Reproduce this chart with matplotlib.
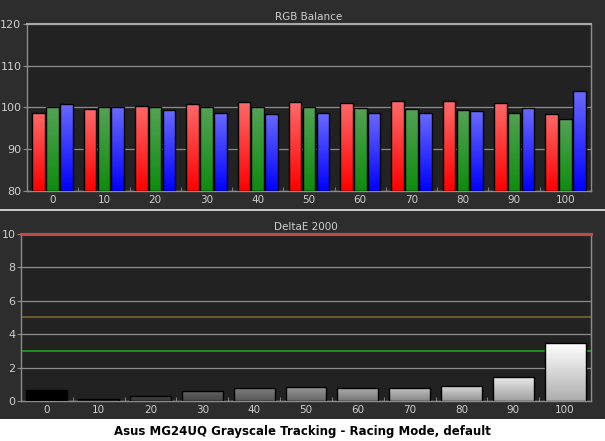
import numpy as np
import matplotlib
matplotlib.use("Agg")
import matplotlib.pyplot as plt
from matplotlib.colors import LinearSegmentedColormap

# ── Data ──────────────────────────────────────────────────────────────────
levels = [0, 10, 20, 30, 40, 50, 60, 70, 80, 90, 100]
red   = [98.8, 99.6, 100.4, 100.9, 101.2, 101.2, 101.1, 101.5, 101.5, 101.1, 98.5]
green = [100.0, 100.0, 100.0, 100.0, 100.0, 100.2, 99.9, 99.7, 99.3, 98.8, 97.2]
blue  = [100.9, 100.0, 99.3, 98.8, 98.5, 98.6, 98.6, 98.6, 99.1, 99.8, 103.9]
delta_e = [0.68, 0.10, 0.30, 0.60, 0.78, 0.82, 0.77, 0.77, 0.88, 1.45, 3.45]
tick_labels = [str(v) for v in levels]

FIG_BG = "#2d2d2d"
AX_BG = "#222222"
GRID = "#8c8c8c"
TXT = "#d0d0d0"

plt.rcParams["font.family"] = ["DejaVu Sans"]

fig = plt.figure(figsize=(6.05, 4.41), dpi=100, facecolor=FIG_BG)


def grad_bar(ax, x0, x1, y0, y1, top, bottom):
    """Bar with vertical gradient + black edge."""
    cmap = LinearSegmentedColormap.from_list("g", [bottom, top])
    g = np.linspace(0, 1, 256).reshape(-1, 1)
    bar = ax.bar((x0 + x1) / 2, y1 - y0, width=x1 - x0, bottom=y0,
                 facecolor="none", edgecolor="black", lw=1.0, zorder=4)[0]
    im = ax.imshow(g, cmap=cmap, extent=[x0, x1, y0, y1], origin="lower",
                   aspect="auto", zorder=3, interpolation="bilinear")
    im.set_clip_path(bar)


def style_axes(ax, xn):
    ax.set_facecolor(AX_BG)
    for s in ax.spines.values():
        s.set_color(GRID)
        s.set_linewidth(1.0)
    ax.spines["top"].set_color("#a8a8a8")
    ax.spines["top"].set_linewidth(1.5)
    ax.set_xlim(-0.5, xn - 0.5)
    ax.set_xticks(np.arange(xn))
    ax.set_xticklabels(tick_labels)
    ax.set_xticks(np.arange(xn - 1) + 0.5, minor=True)
    ax.tick_params(axis="x", which="major", length=0, colors=TXT,
                   labelsize=7.5, pad=3)
    ax.tick_params(axis="x", which="minor", length=3, color=GRID,
                   direction="in")
    ax.tick_params(axis="y", length=3, color=GRID, colors=TXT,
                   labelsize=8, pad=1)
    ax.grid(axis="y", color=GRID, lw=0.9, zorder=1)
    ax.set_axisbelow(True)


# ── RGB Balance ───────────────────────────────────────────────────────────
ax1 = fig.add_axes([0.0446, 0.5669, 0.9323, 0.3787])
style_axes(ax1, len(levels))
ax1.set_ylim(80, 120)
ax1.set_yticks([80, 90, 100, 110, 120])
bw, off = 0.245, 0.27
rgb_cols = [(red, "#ff6a6a", "#ff0000"),
            (green, "#55a255", "#0e8c0e"),
            (blue, "#6a6aff", "#0000ff")]
for k, (vals, top, bot) in enumerate(rgb_cols):
    for i, v in enumerate(vals):
        xc = i + (k - 1) * off
        grad_bar(ax1, xc - bw / 2, xc + bw / 2, 80, v, top, bot)
ax1.set_xlim(-0.5, len(levels) - 0.5)
ax1.set_ylim(80, 120)
ax1.set_title("RGB Balance", color=TXT, fontsize=7.5, pad=3)

# separator line between panels
fig.add_artist(plt.Line2D([0, 1], [0.5238, 0.5238], color="#e8e8e8",
                          lw=1.2, transform=fig.transFigure))

# ── DeltaE 2000 ───────────────────────────────────────────────────────────
ax2 = fig.add_axes([0.0347, 0.0907, 0.9422, 0.3787])
style_axes(ax2, len(levels))
ax2.set_yticks([0, 2, 4, 6, 8, 10])
for i, v in enumerate(delta_e):
    g = (levels[i] / 100) ** 0.75
    top = (g, g, g)
    bot = (g * 0.68, g * 0.68, g * 0.68)
    grad_bar(ax2, i - 0.395, i + 0.395, 0, v, top, bot)
ax2.set_xlim(-0.5, len(levels) - 0.5)
ax2.set_ylim(0, 10)
ax2.axhline(10, color="#c04a4a", lw=2.2, zorder=5, clip_on=False)
ax2.axhline(5, color="#7a6530", lw=1.2, zorder=2)
ax2.axhline(3, color="#1faa1f", lw=1.1, zorder=2)
ax2.set_title("DeltaE 2000", color=TXT, fontsize=7.5, pad=3)

# ── Caption strip ─────────────────────────────────────────────────────────
fig.patches.append(plt.Rectangle((0, 0), 1, 0.0499, transform=fig.transFigure,
                                 facecolor="white", edgecolor="none"))
fig.text(0.5, 0.022, "Asus MG24UQ Grayscale Tracking - Racing Mode, default",
         ha="center", va="center", fontsize=8.5, fontweight="bold",
         color="black")

fig.savefig("out.png", dpi=100, facecolor=FIG_BG)
